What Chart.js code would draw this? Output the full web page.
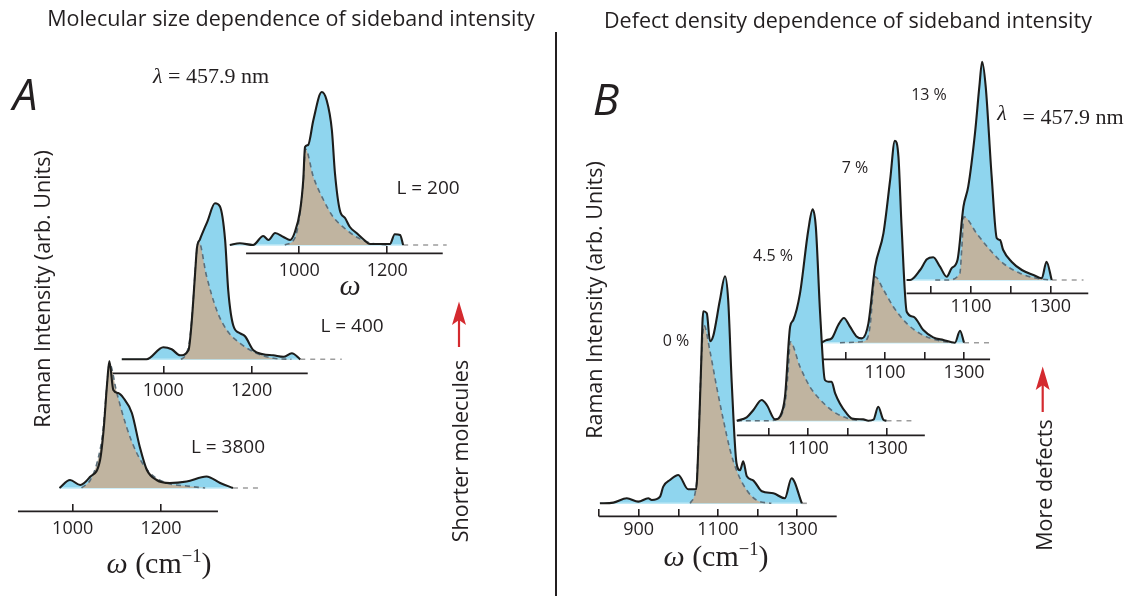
<!DOCTYPE html>
<html>
<head>
<meta charset="utf-8">
<script src="https://cdn.jsdelivr.net/npm/chart.js"></script>
<style>
  body { margin: 0; background: #fff; }
  #fig { position: relative; width: 1133px; height: 596px; overflow: hidden; font-family: "Open Sans", sans-serif; color: #231f20; }
  #charts canvas { position: absolute; }
  .t { position: absolute; white-space: nowrap; transform: translate(-50%, -50%); }
  .v { position: absolute; white-space: nowrap; transform: translate(-50%, -50%) rotate(-90deg); }
  .tex { font-family: "Liberation Serif", serif; }
  #deco { position: absolute; left: 0; top: 0; }
</style>
</head>
<body>
<div id="fig">
  <div id="charts"></div>
  <svg id="deco" width="1133" height="596">
    <line x1="556" y1="32" x2="556" y2="596" stroke="#231f20" stroke-width="2"/>
    <line x1="459" y1="318" x2="459" y2="347" stroke="#d42a2f" stroke-width="2.2"/>
    <polygon points="459,301.5 466,325 459,320 452,325" fill="#d42a2f"/>
    <line x1="1042.7" y1="383" x2="1042.7" y2="412" stroke="#d42a2f" stroke-width="2.2"/>
    <polygon points="1042.7,366.5 1049.7,390 1042.7,385 1035.7,390" fill="#d42a2f"/>
  </svg>

  <div class="t" style="left:291px;top:17px;font-size:21.5px;">Molecular size dependence of sideband intensity</div>
  <div class="t" style="left:848px;top:19px;font-size:21.5px;">Defect density dependence of sideband intensity</div>

  <div class="t" style="left:25px;top:93px;font-size:44px;font-style:italic;">A</div>
  <div class="t" style="left:606px;top:98px;font-size:44px;font-style:italic;">B</div>

  <div class="t tex" style="left:211px;top:76px;font-size:22px;"><i>λ</i> = 457.9 nm</div>
  <div class="t tex" style="left:1002px;top:113px;font-size:22px;"><i>λ</i></div>
  <div class="t tex" style="left:1073px;top:117px;font-size:22px;">= 457.9 nm</div>

  <div class="t" style="left:428px;top:187px;font-size:19px;">L = 200</div>
  <div class="t" style="left:352px;top:325px;font-size:19px;">L = 400</div>
  <div class="t" style="left:228px;top:446px;font-size:19px;">L = 3800</div>

  <div class="t tex" style="left:350px;top:285px;font-size:30px;font-style:italic;">ω</div>
  <div class="t tex" style="left:159px;top:562px;font-size:30px;"><i>ω</i> (cm<sup style="font-size:0.62em;">−1</sup>)</div>
  <div class="t tex" style="left:716px;top:555px;font-size:30px;"><i>ω</i> (cm<sup style="font-size:0.62em;">−1</sup>)</div>

  <div class="v" style="left:41px;top:289px;font-size:21.5px;">Raman Intensity (arb. Units)</div>
  <div class="v" style="left:593px;top:300px;font-size:21.5px;">Raman Intensity (arb. Units)</div>
  <div class="v" style="left:459px;top:451px;font-size:21.5px;">Shorter molecules</div>
  <div class="v" style="left:1043px;top:485px;font-size:21.5px;">More defects</div>

  <div class="t" style="left:676px;top:340px;font-size:16px;">0 %</div>
  <div class="t" style="left:773px;top:255px;font-size:16px;">4.5 %</div>
  <div class="t" style="left:855px;top:167px;font-size:16px;">7 %</div>
  <div class="t" style="left:929px;top:94px;font-size:16px;">13 %</div>
</div>

<script>
// Raman shift (cm-1) and intensity (intensity in px of the original)
// panel A: molecular size
const wL3800 = [970, 994, 1017, 1039, 1062, 1070, 1078, 1083, 1092, 1103, 1115, 1134, 1152, 1168, 1190, 1220, 1258, 1303, 1334, 1363];
const iL3800 = [0, 8, 3, 11, 28, 58, 105, 127, 98, 95, 90, 75, 41, 18, 8, 5, 6.5, 11.5, 5, 0];
const wL3800sb = [1020, 1040, 1055, 1068, 1078, 1083, 1100, 1122, 1145, 1175, 1213, 1258, 1300];
const iL3800sb = [0, 8, 25, 55, 105, 125, 95, 61, 35, 15, 5, 2, 0];

const wL400 = [906, 932, 962, 1000, 1019, 1038, 1057, 1064, 1072, 1076, 1083, 1100, 1117, 1128, 1140, 1147, 1159, 1174, 1185, 1204, 1226, 1249, 1272, 1291, 1310];
const iL400 = [0, 0, 0, 12, 10, 4, 9, 36, 86, 111, 120, 138, 156, 153, 119, 69, 33, 26, 23, 9, 5, 4, 2.5, 6, 0];
const wL400sb = [1040, 1050, 1060, 1068, 1074, 1080, 1098, 1121, 1144, 1174, 1211, 1250, 1290];
const iL400sb = [0, 4, 20, 60, 100, 118, 83, 49, 29, 16, 6, 1, 0];

const wL200 = [842, 865, 895, 918, 930, 945, 964, 979, 990, 1002, 1009, 1013, 1020, 1032, 1051, 1062, 1074, 1081, 1092, 1104, 1115, 1130, 1145, 1161, 1183, 1206, 1217, 1229, 1236];
const iL200 = [0, 1.7, 0, 9, 5, 12, 8, 5, 13, 35, 65, 98, 100, 125, 153, 145, 115, 72, 35, 27, 18, 12, 6, 1, 1, 1, 10.7, 10, 0];
const wL200sb = [967, 990, 1002, 1009, 1014, 1032, 1055, 1077, 1108, 1130, 1161, 1200];
const iL200sb = [0, 7, 33, 63, 96, 68, 45, 28, 15, 8, 2, 0];

// panel B: defect density
const wD0 = [802, 836, 870, 899, 924, 933, 954, 962, 979, 1000, 1025, 1045, 1051, 1057, 1063, 1072, 1080, 1088, 1105, 1118, 1126, 1135, 1147, 1156, 1164, 1173, 1189, 1211, 1240, 1269, 1286, 1312];
const iD0 = [0, 0.7, 5, 1.7, 5, 3.3, 6.7, 16.7, 23.3, 28.3, 14, 14, 60, 130, 192, 190, 162, 167, 203, 227, 203, 120, 40, 33, 42, 27, 23, 12, 10, 5, 25, 0];
const wD0sb = [1030, 1046, 1053, 1059, 1065, 1080, 1097, 1114, 1131, 1147, 1173, 1198, 1235];
const iD0sb = [0, 20, 83, 150, 178, 152, 116, 83, 53, 33, 13, 3, 0];

const wD45 = [919, 944, 961, 982, 995, 1016, 1028, 1041, 1054, 1062, 1079, 1100, 1111, 1119, 1130, 1142, 1151, 1159, 1168, 1180, 1197, 1210, 1239, 1252, 1265, 1277, 1290, 1298];
const iD45 = [0, 3.3, 10.7, 20.7, 15.7, 1.3, 4, 24, 94, 100.7, 127.3, 190.7, 211.3, 194, 107, 40.7, 39, 39, 27.3, 17.3, 7.3, 2.3, 1.3, 0, 1, 14, 1, 0];
const wD45sb = [919, 1000, 1016, 1040, 1050, 1054, 1079, 1104, 1130, 1163, 1197, 1230];
const iD45sb = [0, 0, 1, 15, 55, 79, 54, 34, 21, 9.3, 2.7, 0];

const wD7 = [940, 952, 965, 982, 996, 1011, 1028, 1041, 1058, 1075, 1096, 1113, 1125, 1134, 1142, 1155, 1172, 1197, 1222, 1248, 1277, 1290, 1300];
const iD7 = [0, 2.7, 4.3, 18, 24.7, 16.3, 6.3, 4.3, 19.3, 76, 109.3, 162.7, 202, 186, 116, 31, 26, 12.7, 5.3, 2.7, 0, 12, 0];
const wD7sb = [986, 1040, 1055, 1062, 1075, 1096, 1121, 1155, 1188, 1230, 1270];
const iD7sb = [0, 1, 4, 16, 66, 53, 36, 19.3, 9.3, 2.7, 0];

const wD13 = [938, 947, 972, 989, 1005, 1022, 1039, 1051, 1066, 1081, 1093, 1110, 1121, 1128, 1137, 1152, 1165, 1173, 1181, 1202, 1228, 1257, 1278, 1290, 1303];
const iD13 = [0, 0, 10, 20.7, 22.7, 13.3, 3.3, 11.7, 20, 73.3, 93.3, 146.7, 193.3, 218.3, 193.3, 103.3, 41.7, 40, 30, 18.3, 10, 5, 1.7, 18.3, 0];
const wD13sb = [1010, 1041, 1072, 1077, 1082, 1114, 1148, 1181, 1223, 1265, 1300];
const iD13sb = [0, 0, 6.7, 33, 63.3, 46.7, 30, 16.7, 6.7, 1.7, 0];

// axis extents, dashed tail ends, ticks
const axisL3800 = [876, 1329], axisL400 = [883, 1327], axisL200 = [879, 1326];
const axisD0 = [800, 1400], axisD45 = [919, 1395], axisD7 = [902, 1366], axisD13 = [938, 1395];
const tailL3800 = 1424, tailL400 = 1404, tailL200 = 1335;
const tailD0 = 1333, tailD45 = 1361, tailD7 = 1374, tailD13 = 1383;
const ticksA = [1000, 1200];
const labelsA = [1000, 1200];
const ticksB = [800, 900, 1000, 1100, 1200, 1300];
const labelsB = [900, 1100, 1300];

const INK = '#231f20';
const BLUE = '#8fd5ee';
const TAN = '#c0b4a0';
const DASH = '#5b6f7b';
const TL = 7;
const TICK_PX = 18;

const pts = (w, v) => w.map((x, j) => ({ x, y: v[j] }));

const axisLine = {
  id: 'axisLine',
  afterDraw(chart, args, o) {
    const sx = chart.scales.x;
    const ctx = chart.ctx;
    const y = sx.top + o.tick;
    ctx.save();
    ctx.strokeStyle = INK;
    ctx.lineWidth = 1.8;
    ctx.beginPath();
    ctx.moveTo(sx.getPixelForValue(o.from), y);
    ctx.lineTo(sx.getPixelForValue(o.to), y);
    ctx.stroke();
    ctx.restore();
  }
};

// back to front
const spectra = [
  { w: wL200, i: iL200, ws: wL200sb, is: iL200sb, tail: tailL200, axis: axisL200, ticks: ticksA, labels: labelsA,
    box: { left: 220, right: 455, k: 0.44, refW: 1000, refX: 299.3, base: 245, gap: 8.3, pad: 7 } },
  { w: wL400, i: iL400, ws: wL400sb, is: iL400sb, tail: tailL400, axis: axisL400, ticks: ticksA, labels: labelsA,
    box: { left: 100, right: 360, k: 0.4417, refW: 1000, refX: 163.3, base: 359.3, gap: 14, pad: 7 } },
  { w: wL3800, i: iL3800, ws: wL3800sb, is: iL3800sb, tail: tailL3800, axis: axisL3800, ticks: ticksA, labels: labelsA,
    box: { left: 10, right: 275, k: 0.4415, refW: 1000, refX: 72.7, base: 488, gap: 23.7, pad: 7 } },
  { w: wD13, i: iD13, ws: wD13sb, is: iD13sb, tail: tailD13, axis: axisD13, ticks: ticksB, labels: labelsB,
    box: { left: 900, right: 1100, k: 0.3975, refW: 1100, refX: 971, base: 280, gap: 13.3, pad: 3 } },
  { w: wD7, i: iD7, ws: wD7sb, is: iD7sb, tail: tailD7, axis: axisD7, ticks: ticksB, labels: labelsB,
    box: { left: 800, right: 1005, k: 0.395, refW: 1100, refX: 885, base: 342.7, gap: 16.7, pad: 3 } },
  { w: wD45, i: iD45, ws: wD45sb, is: iD45sb, tail: tailD45, axis: axisD45, ticks: ticksB, labels: labelsB,
    box: { left: 725, right: 930, k: 0.395, refW: 1100, refX: 808.3, base: 420.7, gap: 14.3, pad: 3 } },
  { w: wD0, i: iD0, ws: wD0sb, is: iD0sb, tail: tailD0, axis: axisD0, ticks: ticksB, labels: labelsB,
    box: { left: 590, right: 845, k: 0.396, refW: 900, refX: 638.7, base: 503.3, gap: 12.7, pad: 3 } }
];

const holder = document.getElementById('charts');

spectra.forEach(s => {
  const b = s.box;
  const width = b.right - b.left;
  const xMin = b.refW - (b.refX - b.left) / b.k;
  const xMax = xMin + width / b.k;
  const top = Math.round(b.base - 240);
  const yMax = b.base - top;
  const axisH = TL + TICK_PX * 1.2 + 2 * b.pad;
  const height = Math.round(yMax + b.gap - TL + axisH);
  const yMin = yMax - (height - axisH);

  const cv = document.createElement('canvas');
  cv.width = width;
  cv.height = height;
  cv.style.left = b.left + 'px';
  cv.style.top = top + 'px';
  holder.appendChild(cv);

  const blue = pts(s.w, s.i);
  const first = s.w[0];
  const last = s.w[s.w.length - 1];
  const line = { pointRadius: 0, tension: 0.4, cubicInterpolationMode: 'monotone', clip: false };

  new Chart(cv, {
    type: 'line',
    data: {
      datasets: [
        { ...line, data: blue, fill: 'origin', backgroundColor: BLUE, borderWidth: 0, order: 5 },
        { ...line, data: [{ x: first, y: 0 }, { x: last, y: 0 }], borderColor: '#bfe9f6', borderWidth: 1.5, order: 4 },
        { ...line, data: pts(s.ws, s.is), fill: 'origin', backgroundColor: TAN, borderColor: DASH,
          borderWidth: 1.6, borderDash: [5, 4], order: 3 },
        { ...line, data: [{ x: last, y: 0 }, { x: s.tail, y: 0 }], borderColor: '#9d9d9d',
          borderWidth: 1.6, borderDash: [5, 5], order: 2 },
        { ...line, data: blue, fill: false, borderColor: '#1d1d1b', borderWidth: 2.1, order: 1 }
      ]
    },
    options: {
      responsive: false,
      animation: false,
      events: [],
      layout: { padding: 0 },
      plugins: {
        legend: { display: false },
        tooltip: { enabled: false },
        axisLine: { from: s.axis[0], to: s.axis[1], tick: TL }
      },
      scales: {
        x: {
          type: 'linear',
          min: xMin,
          max: xMax,
          border: { display: false },
          grid: { drawOnChartArea: false, drawTicks: true, tickLength: TL, color: INK, lineWidth: 1.6 },
          afterBuildTicks: sc => {
            sc.ticks = s.ticks.filter(v => v >= s.axis[0] && v <= s.axis[1]).map(v => ({ value: v }));
          },
          ticks: {
            autoSkip: false,
            maxRotation: 0,
            padding: b.pad,
            color: INK,
            font: { family: 'Open Sans', size: TICK_PX, lineHeight: 1.2 },
            callback: v => (s.labels.includes(v) ? String(v) : '')
          }
        },
        y: { display: false, min: yMin, max: yMax }
      }
    },
    plugins: [axisLine]
  });
});
</script>
</body>
</html>
